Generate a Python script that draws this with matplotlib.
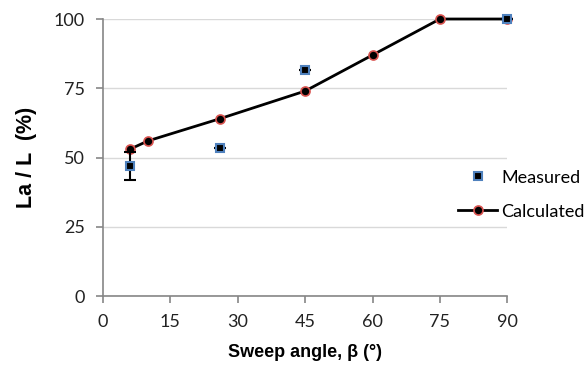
import numpy as np
import matplotlib.pyplot as plt
from matplotlib.lines import Line2D

# data
meas_x = [6, 26, 45, 90]
meas_y = [47, 53.6, 81.7, 100]
meas_err = [5, 0, 0, 0]

calc_x = [6, 10, 26, 45, 60, 75, 90]
calc_y = [53, 56, 64, 74, 87, 100, 100]

xticks = [0, 15, 30, 45, 60, 75, 90]
yticks = [0, 25, 50, 75, 100]

fig = plt.figure(figsize=(5.87, 3.78), dpi=100)
ax = fig.add_axes([0.1755, 0.2169, 0.6887, 0.7328])

ax.plot(calc_x, calc_y, color='black', lw=2, marker='o', ms=6.5,
        mfc='black', mec='#d9534f', mew=1.2, zorder=3, clip_on=False)
ax.errorbar(meas_x, meas_y, yerr=meas_err, fmt='s', ms=6, mfc='black',
            mec='#4f81bd', mew=1.5, ecolor='black', elinewidth=1.5,
            capsize=4, capthick=1.5, zorder=4, clip_on=False)

ax.set_xlim(0, 90)
ax.set_ylim(0, 100)
ax.set_xticks(xticks)
ax.set_yticks(yticks)
ax.yaxis.grid(True, color='#d9d9d9', lw=1)
ax.set_axisbelow(True)
for s in ['top', 'right']:
    ax.spines[s].set_visible(False)
for s in ['left', 'bottom']:
    ax.spines[s].set_color('#868686')
    ax.spines[s].set_linewidth(1.2)
ax.tick_params(colors='#868686', length=5, width=1.2, labelsize=13,
               labelcolor='#222222', pad=8)
for lab in ax.get_xticklabels() + ax.get_yticklabels():
    lab.set_family('Lato')

ax.set_xlabel('Sweep angle, β (°)', fontsize=13, fontweight='bold',
              family='Liberation Sans', labelpad=10)
ax.set_ylabel('La / L  (%)', fontsize=15.5, fontweight='bold',
              family='Liberation Sans', labelpad=12)

handles = [
    Line2D([], [], ls='none', marker='s', ms=6, mfc='black', mec='#4f81bd', mew=1.5),
    Line2D([], [], color='black', lw=2, marker='o', ms=6.5, mfc='black',
           mec='#d9534f', mew=1.2),
]
leg = fig.legend(handles, ['Measured', 'Calculated'], loc='center left',
                 bbox_to_anchor=(0.752, 0.485), frameon=False,
                 prop={'family': 'Lato', 'size': 13}, handlelength=2.2,
                 handletextpad=0.2, labelspacing=1.0)

fig.savefig('out.png', dpi=100)
